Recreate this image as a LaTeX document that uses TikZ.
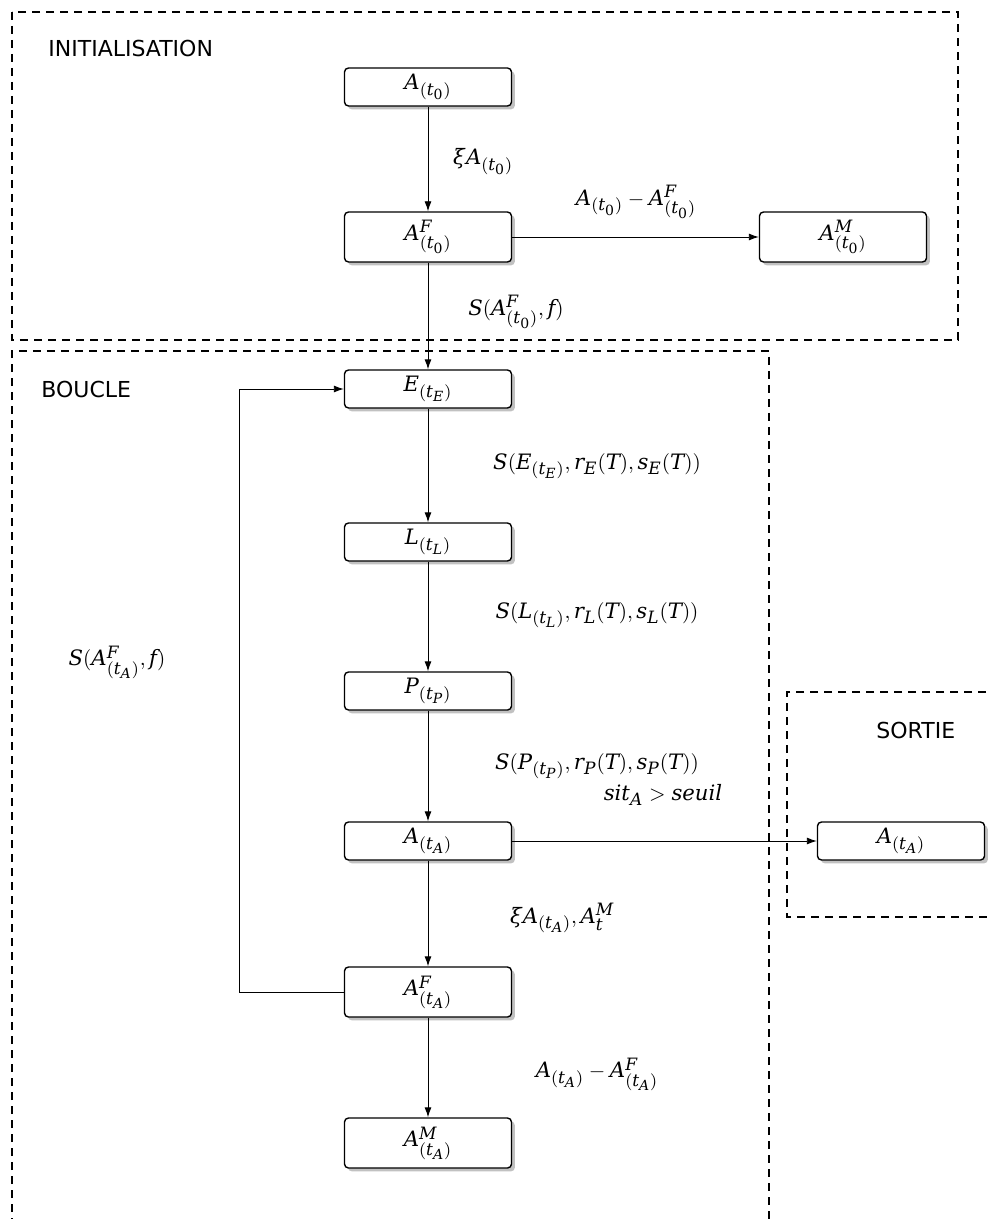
\RequirePackage{fix-cm}
\documentclass[tikz,border=0pt]{standalone}
\usepackage{mathspec}
\setsansfont{DejaVu Sans}
\setmathsfont(Digits,Latin,Greek){DejaVu Serif}
\setmathrm{DejaVu Serif}
\DeclareMathSizes{10.6}{10.6}{8.5}{7}
\usetikzlibrary{shadows,arrows.meta}
\begin{document}
\begin{tikzpicture}[x=0.5pt,y=-0.5pt,
  frame/.style={line width=1pt,dash pattern=on 4pt off 3pt},
  mfont/.style={font=\fontsize{10.6}{12.5}\selectfont},
  stepbox/.style={draw,line width=0.7pt,rounded corners=2pt,fill=white,
    minimum width=83.5pt,minimum height=19pt,inner sep=1pt,mfont,
    drop shadow={shadow xshift=1.7pt,shadow yshift=-1.7pt,fill=black!30,opacity=0.8}},
  tallbox/.style={stepbox,minimum height=25pt},
  conn/.style={-{Latex[length=5pt,width=3.5pt]},line width=0.45pt},
  lab/.style={mfont,inner sep=0pt},
  title/.style={font=\sffamily\fontsize{11}{13}\selectfont,anchor=west,inner sep=0pt}]
\useasboundingbox (0,0) rectangle (990,1219);
% frames
\draw[frame] (12,12) rectangle (958,340);
\draw[frame] (12,1240) -- (12,351) -- (769,351) -- (769,1240);
\draw[frame] (1000,692) -- (787,692) -- (787,917) -- (1000,917);
\node[title] (tinit) at (48,48) {INITIALISATION};
\node[title] (tboucle) at (41,389) {BOUCLE};
\node[title] (tsortie) at (876,730) {SORTIE};
% nodes
\node[stepbox] (a0) at (428,87) {$A_{(t_0)}$};
\node[tallbox] (af0) at (428,237) {$A^F_{(t_0)}$};
\node[tallbox] (am0) at (843,237) {$A^M_{(t_0)}$};
\node[stepbox] (e) at (428,389) {$E_{(t_E)}$};
\node[stepbox] (l) at (428,542) {$L_{(t_L)}$};
\node[stepbox] (p) at (428,691) {$P_{(t_P)}$};
\node[stepbox] (a) at (428,841) {$A_{(t_A)}$};
\node[tallbox] (af) at (428,992) {$A^F_{(t_A)}$};
\node[tallbox] (am) at (428,1143) {$A^M_{(t_A)}$};
\node[stepbox] (out) at (901,841) {$A_{(t_A)}$};
% connectors
\draw[conn] (a0) -- (af0);
\draw[conn] (af0) -- (am0);
\draw[conn] (af0) -- (e);
\draw[conn] (e) -- (l);
\draw[conn] (l) -- (p);
\draw[conn] (p) -- (a);
\draw[conn] (a) -- (out);
\draw[conn] (a) -- (af);
\draw[conn] (af) -- (am);
\coordinate (fbb) at (239,992);
\coordinate (fbt) at (239,389);
\draw[conn] (af.west) -- (fbb) -- (fbt) -- (e.west);
% labels
\node[lab] (l1) at (483,162) {$\xi A_{(t_0)}$};
\node[lab] (l2) at (636,202) {$A_{(t_0)}-A^F_{(t_0)}$};
\node[lab] (l3) at (516,312) {$S(A^F_{(t_0)},f)$};
\node[lab] (l4) at (597,466) {$S(E_{(t_E)},r_E(T),s_E(T))$};
\node[lab] (l5) at (597,615) {$S(L_{(t_L)},r_L(T),s_L(T))$};
\node[lab] (l6) at (597,766) {$S(P_{(t_P)},r_P(T),s_P(T))$};
\node[lab] (l7) at (663,795) {$sit_A>seuil$};
\node[lab] (l8) at (562,918) {$\xi A_{(t_A)},A^M_t$};
\node[lab] (l9) at (597,1074) {$A_{(t_A)}-A^F_{(t_A)}$};
\node[lab] (l10) at (117,662) {$S(A^F_{(t_A)},f)$};
\end{tikzpicture}
\end{document}
